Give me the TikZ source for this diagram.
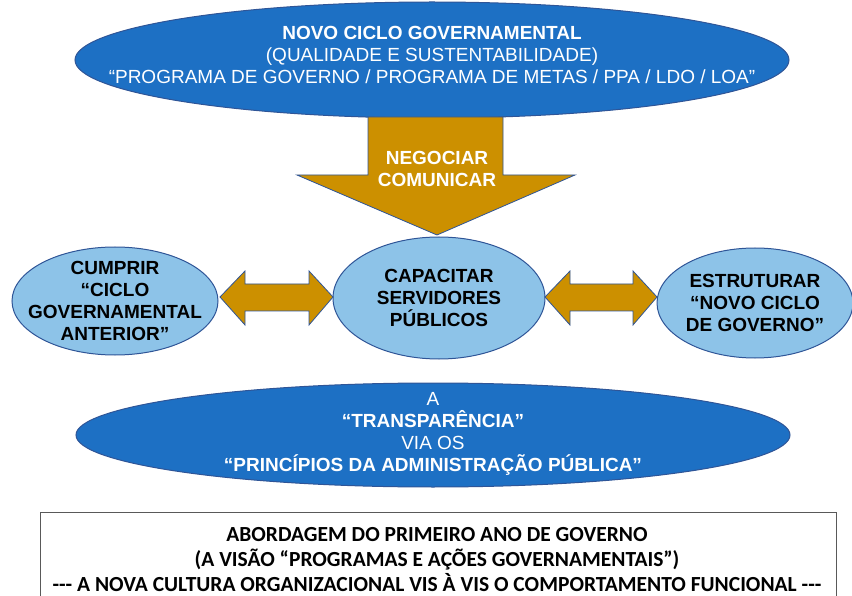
\documentclass[tikz,border=0pt]{standalone}
\usepackage{fontspec}
\setmainfont{Liberation Sans}
\newfontfamily\boxfont{Carlito}
\usetikzlibrary{shapes.geometric}
\definecolor{deepblue}{HTML}{1D70C4}
\definecolor{edgeblue}{HTML}{2F5597}
\definecolor{paleblue}{HTML}{8DC3E8}
\definecolor{gold}{HTML}{CC9000}
\definecolor{boxedge}{HTML}{595959}
\begin{document}
\begin{tikzpicture}[x=1pt,y=-1pt,
  bigoval/.style={ellipse, draw=edgeblue, line width=1pt, fill=deepblue,
    minimum width=714pt, minimum height=#1, inner sep=0pt},
  smalloval/.style={ellipse, draw=edgeblue, line width=1pt, fill=paleblue,
    inner sep=0pt},
  whitetext/.style={text=white, align=center, font=\fontsize{19}{22}\selectfont},
  darktext/.style={text=black, align=center, font=\bfseries\fontsize{19}{22}\selectfont},
  goldshape/.style={fill=gold, draw=edgeblue, line width=0.8pt, line join=miter},
  notebox/.style={draw=boxedge, line width=0.8pt, fill=white}
]
\useasboundingbox (0,0) rectangle (852,596);

% top oval: the new government cycle
\node[bigoval=116pt] (cycle) at (432,60) {};
\node[whitetext] (cycletxt) at (432,55)
  {\textbf{NOVO CICLO GOVERNAMENTAL}\\
   (QUALIDADE E SUSTENTABILIDADE)\\
   “PROGRAMA DE GOVERNO / PROGRAMA DE METAS / PPA / LDO / LOA”};

% broad downward arrow
\draw[goldshape] (368,117) -- (503,117) -- (503,175) -- (575,175)
  -- (437,235) -- (297,175) -- (368,175) -- cycle;
\node[whitetext, font=\bfseries\fontsize{19}{22}\selectfont] (negotiate) at (437,169)
  {NEGOCIAR\\COMUNICAR};

% the three middle ovals
\node[smalloval, minimum width=206pt, minimum height=108pt] (fulfil) at (115,301) {};
\node[darktext] (fulfiltxt) at (fulfil.center)
  {CUMPRIR\\“CICLO\\GOVERNAMENTAL\\ANTERIOR”};
\node[smalloval, minimum width=212pt, minimum height=122pt] (train) at (439,298) {};
\node[darktext] (traintxt) at (train.center)
  {CAPACITAR\\SERVIDORES\\PÚBLICOS};
\node[smalloval, minimum width=196pt, minimum height=110pt] (build) at (755,303) {};
\node[darktext] (buildtxt) at (build.center)
  {ESTRUTURAR\\“NOVO CICLO\\DE GOVERNO”};

% double-headed block arrows between the ovals
\draw[goldshape] (220,297) -- (245,271) -- (245,284) -- (309,284) -- (309,271)
  -- (333,297) -- (309,325) -- (309,311) -- (245,311) -- (245,325) -- cycle;
\draw[goldshape] (545,297) -- (570,271) -- (570,284) -- (633,284) -- (633,271)
  -- (657,297) -- (633,325) -- (633,311) -- (570,311) -- (570,325) -- cycle;

% lower oval: transparency
\node[bigoval=104pt] (clear) at (433,435) {};
\node[whitetext] (cleartxt) at (433,434)
  {A\\\textbf{“TRANSPARÊNCIA”}\\VIA OS\\\textbf{“PRINCÍPIOS DA ADMINISTRAÇÃO PÚBLICA”}};

% closing note box
\draw[notebox] (40,512) rectangle (836,606);
\node[align=center, font=\boxfont\bfseries\fontsize{21.5}{25}\selectfont, anchor=north]
  (note) at (437,524)
  {ABORDAGEM DO PRIMEIRO ANO DE GOVERNO\\
   (A VISÃO “PROGRAMAS E AÇÕES GOVERNAMENTAIS”)\\
   {-}{-}{-} A NOVA CULTURA ORGANIZACIONAL VIS À VIS O COMPORTAMENTO FUNCIONAL {-}{-}{-}};
\end{tikzpicture}
\end{document}
